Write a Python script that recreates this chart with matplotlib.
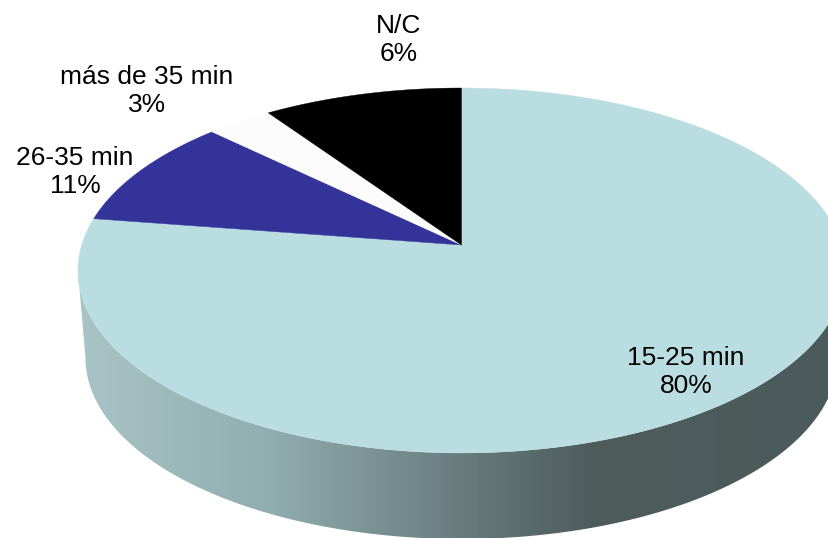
import numpy as np
import matplotlib
matplotlib.use("Agg")
import matplotlib.pyplot as plt
from matplotlib.colors import LinearSegmentedColormap
from matplotlib.patches import Polygon

# Porciones tal como se ven dibujadas (las etiquetas dicen otra cosa)
categorias = ["15-25 min", "26-35 min", "más de 35 min", "N/C"]
porcentajes = [80, 11, 3, 6]
porciones = [77.4, 9.8, 3.2, 9.6]
colores = ["#b9dde0", "#333399", "#fcfcfc", "#000000"]
pos_etiquetas = [(686, 372), (75, 172), (147, 91), (399, 40)]

# Tapa del pastel en perspectiva (homografía de un círculo)
APEX_X, APEX_Y = 461.5, 245
A, B, K = 379.8, 178.9, 0.1396
# Borde inferior del costado
BASE_X, BASE_Y, BASE_RX, BASE_RY = 461.5, 358, 376, 181


def tapa(theta):
    w = 1 + K * np.cos(theta)
    return APEX_X + A * np.sin(theta) / w, APEX_Y - B * np.cos(theta) / w


def main():
    fig = plt.figure(figsize=(8.29, 5.38), dpi=100)
    ax = fig.add_axes([0, 0, 1, 1])

    # Costado con degradado horizontal
    cmap = LinearSegmentedColormap.from_list("costado", [
        (0.0, "#a8c4c6"), (0.25, "#90adaf"), (0.5, "#687c7e"),
        (0.67, "#4e5c5c"), (1.0, "#4b5a5a")])
    im = ax.imshow(np.linspace(0, 1, 400).reshape(1, -1), cmap=cmap, aspect="auto",
                   extent=(78, 845, 538, 80), zorder=1)

    # de izquierda a derecha por la tapa, y de vuelta por la base
    th = np.linspace(-np.pi / 2 - 0.14, -3 * np.pi / 2 + 0.14, 300)
    xt, yt = tapa(th)
    t = np.linspace(0, np.pi, 300)
    xb = BASE_X + BASE_RX * np.cos(t)
    yb = BASE_Y + BASE_RY * np.sin(t)
    contorno = Polygon(np.column_stack([np.r_[xt, xb], np.r_[yt, yb]]),
                       closed=True, transform=ax.transData)
    im.set_clip_path(contorno)

    # Porciones de la tapa, en sentido horario desde las 12
    inicio = 0.0
    for valor, color in zip(porciones, colores):
        fin = inicio + valor / sum(porciones) * 2 * np.pi
        ang = np.linspace(inicio, fin, 200)
        x, y = tapa(ang)
        ax.fill(np.r_[APEX_X, x], np.r_[APEX_Y, y], color=color, lw=0.3, zorder=2)
        inicio = fin

    for cat, pct, (x, y) in zip(categorias, porcentajes, pos_etiquetas):
        ax.text(x, y, f"{cat}\n{pct}%", ha="center", va="center", fontsize=19,
                family="Liberation Sans", color="#000000", linespacing=1.18, zorder=3)

    ax.set_xlim(0, 829)
    ax.set_ylim(538, 0)
    ax.axis("off")
    fig.savefig("out.png", dpi=100, facecolor="white")


if __name__ == "__main__":
    main()
